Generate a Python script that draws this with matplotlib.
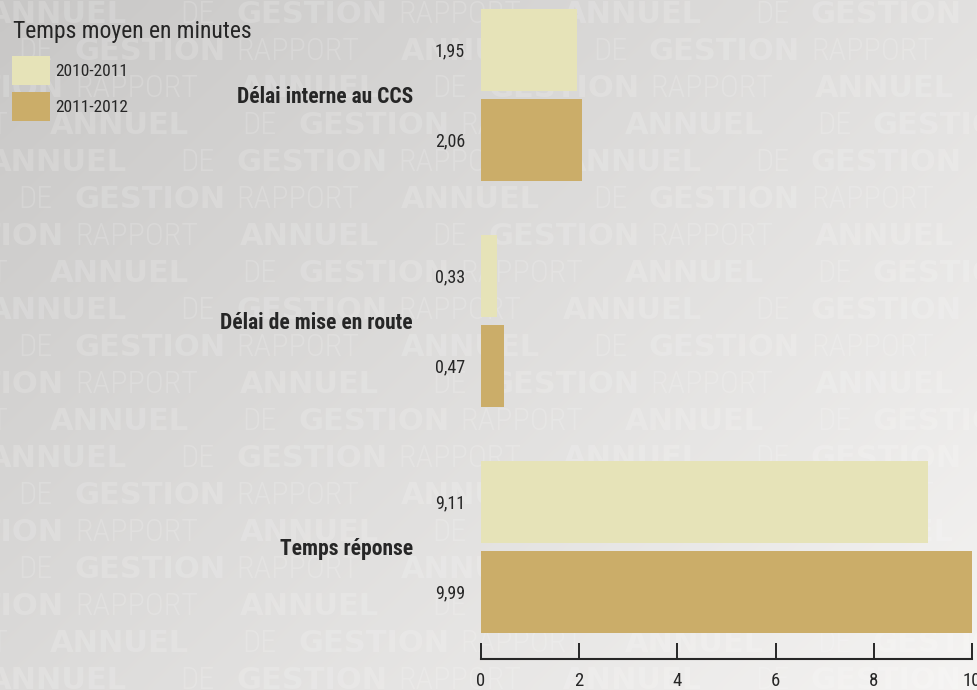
import numpy as np
import matplotlib
matplotlib.use("Agg")
import matplotlib.pyplot as plt

# data
categories = ["Délai interne au CCS", "Délai de mise en route", "Temps réponse"]
series_names = ["2010-2011", "2011-2012"]
values_2010 = [1.95, 0.33, 9.11]
values_2011 = [2.06, 0.47, 9.99]
xticks = [0, 2, 4, 6, 8, 10]
title = "Temps moyen en minutes"

# watermark words and row pattern of the page background
wm_words = ["ANNUEL", "DE", "GESTION", "RAPPORT"]
wm_bold = [True, False, True, False]
wm_rows = "ABCDABCDABCDABCBCDA"

light = "#e6e3b8"
gold = "#cbad69"
ink = "#262626"
cond = ["Roboto Condensed", "DejaVu Sans"]

W, H = 977, 690
fig = plt.figure(figsize=(W / 100, H / 100), dpi=100)

# ---- background: grey gradient + faint watermark text
bg = fig.add_axes([0, 0, 1, 1])
gx = np.linspace(0, 1, 200)
gy = np.linspace(0, 1, 140)
GX, GY = np.meshgrid(gx, gy)
shade = np.clip(0.785 + 0.10 * GX + 0.075 * GY, 0, 1)
bg.imshow(np.dstack([shade, shade * 0.995, shade * 0.99]), extent=[0, W, H, 0],
          aspect="auto", interpolation="bicubic", zorder=0)
bg.set_xlim(0, W)
bg.set_ylim(H, 0)
bg.axis("off")

word_dx = [0, 192, 248, 410]
cycle = 575
row_shift = {"A": -12, "B": -174, "C": 240, "D": 50}
for i, r in enumerate(wm_rows):
    y = 12 + 37 * i
    for k in range(-1, 3):
        for w, dx, b in zip(wm_words, word_dx, wm_bold):
            x = row_shift[r] + k * cycle + dx
            if x < -200 or x > W + 10:
                continue
            if b:
                bg.text(x, y + 11, w, fontsize=22, fontweight="bold",
                        family="DejaVu Sans",
                        color="white", alpha=0.17, va="baseline", zorder=1)
            else:
                bg.text(x, y + 11, w, fontsize=23, fontweight="light",
                        family=cond, fontstretch="condensed",
                        color="white", alpha=0.17, va="baseline", zorder=1)

# ---- main chart
ax = fig.add_axes([481 / W, 31 / H, 491 / W, 659 / H])
ax.patch.set_alpha(0)
ypos = np.array([2.0, 1.0, 0.0])
off = 45 / 226
bh = 82 / 226
b1 = ax.barh(ypos + off, values_2010, height=bh, color=light, label=series_names[0])
b2 = ax.barh(ypos - off, values_2011, height=bh, color=gold, label=series_names[1])
ax.set_xlim(0, 10)
ax.set_ylim(-112 / 226, 547 / 226)

for s in ["top", "right", "left"]:
    ax.spines[s].set_visible(False)
ax.spines["bottom"].set_color(ink)
ax.spines["bottom"].set_linewidth(1.5)
ax.set_yticks([])
ax.set_xticks(xticks)
ax.set_xticklabels([str(t) for t in xticks], family=cond, fontstretch="condensed")
ax.tick_params(axis="x", direction="in", length=11.5, width=1.4, color=ink,
               labelcolor=ink, labelsize=13.5, pad=9)

for vals, yy in [(values_2010, ypos + off), (values_2011, ypos - off)]:
    for v, y in zip(vals, yy):
        ax.annotate(f"{v:.2f}".replace(".", ","), xy=(0, y), xytext=(-16, -6),
                    textcoords="offset pixels", ha="right", va="baseline",
                    fontsize=13, family=cond, fontstretch="condensed", color=ink,
                    annotation_clip=False)

for c, y in zip(categories, ypos):
    ax.annotate(c, xy=(0, y), xytext=(-68, -8), textcoords="offset pixels",
                ha="right", va="baseline", fontsize=15.5, fontweight="bold",
                family=cond, fontstretch="condensed", color=ink, annotation_clip=False)

# ---- legend
fig.text(13 / W, 1 - 38 / H, title, fontsize=17, family=cond, fontstretch="condensed",
         color=ink, ha="left", va="baseline")
fig.legend(handles=[b1, b2], loc="upper left", bbox_to_anchor=(12 / W, 1 - 56 / H),
           frameon=False, borderpad=0, borderaxespad=0, handlelength=2.18,
           handleheight=2.19, labelspacing=0.4, handletextpad=0.3,
           prop={"family": cond, "stretch": "condensed", "size": 12.5}, labelcolor=ink)

fig.savefig("out.png", dpi=100)
